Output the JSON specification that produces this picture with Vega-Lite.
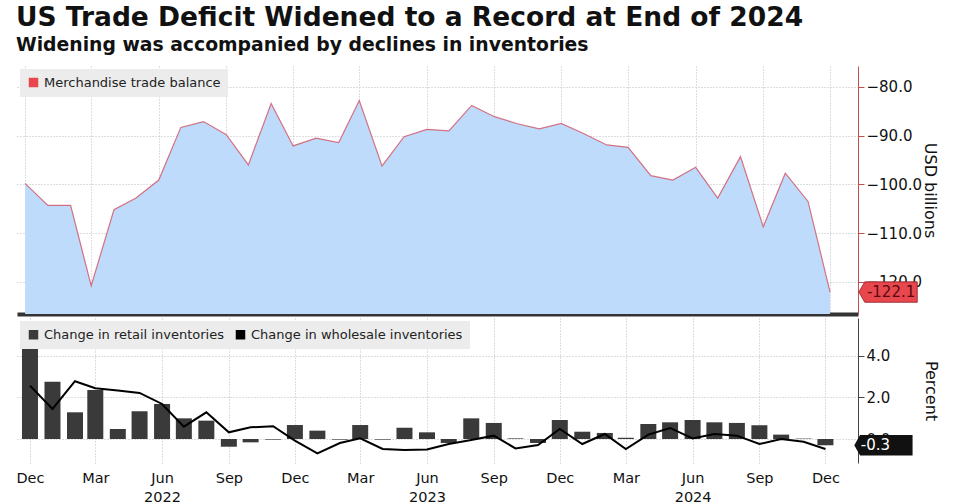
{
  "$schema": "https://vega.github.io/schema/vega-lite/v6.json",
  "padding": {"left": 15, "top": 4, "right": 5, "bottom": 4},
  "background": "white",
  "config": {
    "font": "DejaVu Sans",
    "view": {"stroke": null},
    "concat": {"spacing": 4}
  },
  "title": {
    "text": "US Trade Deficit Widened to a Record at End of 2024",
    "subtitle": "Widening was accompanied by declines in inventories",
    "anchor": "start",
    "font": "DejaVu Sans",
    "fontSize": 26.5,
    "fontWeight": "bold",
    "color": "#111111",
    "subtitleFont": "DejaVu Sans",
    "subtitleFontSize": 18.8,
    "subtitleFontWeight": "bold",
    "subtitleColor": "#111111",
    "subtitlePadding": 5,
    "offset": 11
  },
  "datasets": {
    "main": [
      {"date": "2021-12-01", "trade": -99.8, "retail": 4.32, "wholesale": 2.56},
      {"date": "2022-01-01", "trade": -104.3, "retail": 2.75, "wholesale": 1.44},
      {"date": "2022-02-01", "trade": -104.3, "retail": 1.28, "wholesale": 2.77},
      {"date": "2022-03-01", "trade": -120.8, "retail": 2.35, "wholesale": 2.43},
      {"date": "2022-04-01", "trade": -105.2, "retail": 0.48, "wholesale": 2.32},
      {"date": "2022-05-01", "trade": -102.8, "retail": 1.33, "wholesale": 2.21},
      {"date": "2022-06-01", "trade": -99.1, "retail": 1.68, "wholesale": 1.68},
      {"date": "2022-07-01", "trade": -88.3, "retail": 0.99, "wholesale": 0.59},
      {"date": "2022-08-01", "trade": -87.1, "retail": 0.88, "wholesale": 1.28},
      {"date": "2022-09-01", "trade": -89.8, "retail": -0.37, "wholesale": 0.32},
      {"date": "2022-10-01", "trade": -96.0, "retail": -0.16, "wholesale": 0.56},
      {"date": "2022-11-01", "trade": -83.4, "retail": -0.03, "wholesale": 0.61},
      {"date": "2022-12-01", "trade": -92.1, "retail": 0.67, "wholesale": -0.08},
      {"date": "2023-01-01", "trade": -90.5, "retail": 0.40, "wholesale": -0.69},
      {"date": "2023-02-01", "trade": -91.4, "retail": -0.03, "wholesale": -0.19},
      {"date": "2023-03-01", "trade": -82.8, "retail": 0.67, "wholesale": 0.03},
      {"date": "2023-04-01", "trade": -96.2, "retail": -0.03, "wholesale": -0.48},
      {"date": "2023-05-01", "trade": -90.2, "retail": 0.54, "wholesale": -0.53},
      {"date": "2023-06-01", "trade": -88.7, "retail": 0.32, "wholesale": -0.50},
      {"date": "2023-07-01", "trade": -89.0, "retail": -0.19, "wholesale": -0.24},
      {"date": "2023-08-01", "trade": -83.8, "retail": 0.99, "wholesale": -0.05},
      {"date": "2023-09-01", "trade": -86.1, "retail": 0.77, "wholesale": 0.16},
      {"date": "2023-10-01", "trade": -87.5, "retail": 0.03, "wholesale": -0.45},
      {"date": "2023-11-01", "trade": -88.6, "retail": -0.19, "wholesale": -0.29},
      {"date": "2023-12-01", "trade": -87.5, "retail": 0.91, "wholesale": 0.48},
      {"date": "2024-01-01", "trade": -89.6, "retail": 0.35, "wholesale": -0.24},
      {"date": "2024-02-01", "trade": -91.9, "retail": 0.29, "wholesale": 0.24},
      {"date": "2024-03-01", "trade": -92.4, "retail": 0.06, "wholesale": -0.48},
      {"date": "2024-04-01", "trade": -98.2, "retail": 0.72, "wholesale": 0.21},
      {"date": "2024-05-01", "trade": -99.1, "retail": 0.80, "wholesale": 0.53},
      {"date": "2024-06-01", "trade": -96.5, "retail": 0.91, "wholesale": 0.03},
      {"date": "2024-07-01", "trade": -102.8, "retail": 0.80, "wholesale": 0.24},
      {"date": "2024-08-01", "trade": -94.3, "retail": 0.77, "wholesale": 0.16},
      {"date": "2024-09-01", "trade": -108.7, "retail": 0.66, "wholesale": -0.24},
      {"date": "2024-10-01", "trade": -97.7, "retail": 0.21, "wholesale": 0.00},
      {"date": "2024-11-01", "trade": -103.5, "retail": 0.02, "wholesale": -0.13},
      {"date": "2024-12-01", "trade": -122.1, "retail": -0.30, "wholesale": -0.48}
    ],
    "lastTrade": [{"date": "2024-12-01", "v": -122.1, "label": "-122.1"}],
    "lastRetail": [{"date": "2024-12-01", "v": -0.3, "label": "-0.3"}]
  },
  "resolve": {"scale": {"color": "independent", "x": "independent", "y": "independent"}, "legend": {"color": "independent"}},
  "vconcat": [
    {
      "width": 841,
      "height": 248,
      "data": {"name": "main"},
      "encoding": {
        "x": {
          "field": "date",
          "type": "temporal",
          "scale": {"type": "utc", "domain": [{"year": 2021, "month": 11, "date": 20, "utc": true}, {"year": 2025, "month": 1, "date": 8, "utc": true}]},
          "axis": {
            "title": null,
            "orient": "bottom",
            "labels": false,
            "ticks": false,
            "domain": true,
            "domainColor": "#333333",
            "domainWidth": 4,
            "grid": true,
            "gridColor": "#b8bcc8",
            "gridDash": [1, 2],
            "values": [
              {"year": 2021, "month": 12, "date": 1, "utc": true},
              {"year": 2022, "month": 3, "date": 1, "utc": true},
              {"year": 2022, "month": 6, "date": 1, "utc": true},
              {"year": 2022, "month": 9, "date": 1, "utc": true},
              {"year": 2022, "month": 12, "date": 1, "utc": true},
              {"year": 2023, "month": 3, "date": 1, "utc": true},
              {"year": 2023, "month": 6, "date": 1, "utc": true},
              {"year": 2023, "month": 9, "date": 1, "utc": true},
              {"year": 2023, "month": 12, "date": 1, "utc": true},
              {"year": 2024, "month": 3, "date": 1, "utc": true},
              {"year": 2024, "month": 6, "date": 1, "utc": true},
              {"year": 2024, "month": 9, "date": 1, "utc": true},
              {"year": 2024, "month": 12, "date": 1, "utc": true}
            ]
          }
        }
      },
      "layer": [
        {
          "mark": {"type": "area", "color": "#bfdbfb", "clip": true},
          "encoding": {
            "y": {
              "field": "trade",
              "type": "quantitative",
              "scale": {"domain": [-126.6, -75.7], "zero": false, "nice": false},
              "axis": {
                "orient": "right",
                "title": "USD billions",
                "titleFontSize": 16,
                "titleFontWeight": "normal",
                "titleColor": "#111111",
                "titlePadding": 0,
                "values": [-120, -110, -100, -90, -80],
                "format": ".1f",
                "labelFontSize": 15,
                "labelColor": "#111111",
                "labelPadding": 2,
                "domainColor": "#c0504d",
                "tickColor": "#c0504d",
                "tickSize": 6,
                "grid": true,
                "gridColor": "#b8bcc8",
                "gridDash": [1, 2]
              }
            },
            "y2": {"datum": -126.6}
          }
        },
        {
          "mark": {"type": "line", "strokeWidth": 1.2, "opacity": 0.75},
          "encoding": {
            "y": {"field": "trade", "type": "quantitative"},
            "color": {
              "datum": "Merchandise trade balance",
              "scale": {"domain": ["Merchandise trade balance"], "range": ["#d0485a"]},
              "legend": {
                "title": null,
                "orient": "top-left",
                "offset": 3,
                "fillColor": "#ececec",
                "padding": 7,
                "symbolType": "square",
                "symbolSize": 90,
                "symbolFillColor": "#e8474e",
                "symbolStrokeColor": "#e8474e",
                "symbolStrokeWidth": 0,
                "symbolOpacity": 1,
                "labelFontSize": 13,
                "labelColor": "#222222",
                "labelLimit": 400
              }
            }
          }
        },
        {
          "data": {"name": "lastTrade"},
          "mark": {"type": "point", "shape": "M-1,0L-0.8,-0.35L1,-0.35L1,0.35L-0.8,0.35Z", "size": 3400, "filled": true, "fill": "#e8474e", "stroke": "#8a1c22", "strokeWidth": 0.8, "opacity": 1, "xOffset": 58},
          "encoding": {"y": {"field": "v", "type": "quantitative"}}
        },
        {
          "data": {"name": "lastTrade"},
          "mark": {"type": "text", "fontSize": 15, "color": "#5a0a10", "xOffset": 61, "align": "center", "baseline": "middle"},
          "encoding": {"y": {"field": "v", "type": "quantitative"}, "text": {"field": "label"}}
        }
      ]
    },
    {
      "width": 841,
      "height": 145,
      "data": {"name": "main"},
      "encoding": {
        "x": {
          "field": "date",
          "type": "temporal",
          "scale": {"type": "utc", "domain": [{"year": 2021, "month": 11, "date": 20, "utc": true}, {"year": 2025, "month": 1, "date": 8, "utc": true}]},
          "axis": {
            "title": null,
            "orient": "bottom",
            "domain": false,
            "ticks": false,
            "grid": true,
            "gridColor": "#b8bcc8",
            "gridDash": [1, 2],
            "labelFontSize": 14.5,
            "labelColor": "#111111",
            "labelPadding": 8,
            "labelLineHeight": 19,
            "labelExpr": "utcmonth(datum.value) == 5 ? [utcFormat(datum.value, '%b'), utcFormat(datum.value, '%Y')] : utcFormat(datum.value, '%b')",
            "values": [
              {"year": 2021, "month": 12, "date": 1, "utc": true},
              {"year": 2022, "month": 3, "date": 1, "utc": true},
              {"year": 2022, "month": 6, "date": 1, "utc": true},
              {"year": 2022, "month": 9, "date": 1, "utc": true},
              {"year": 2022, "month": 12, "date": 1, "utc": true},
              {"year": 2023, "month": 3, "date": 1, "utc": true},
              {"year": 2023, "month": 6, "date": 1, "utc": true},
              {"year": 2023, "month": 9, "date": 1, "utc": true},
              {"year": 2023, "month": 12, "date": 1, "utc": true},
              {"year": 2024, "month": 3, "date": 1, "utc": true},
              {"year": 2024, "month": 6, "date": 1, "utc": true},
              {"year": 2024, "month": 9, "date": 1, "utc": true},
              {"year": 2024, "month": 12, "date": 1, "utc": true}
            ]
          }
        }
      },
      "layer": [
        {
          "mark": {"type": "bar", "size": 16},
          "encoding": {
            "y": {
              "field": "retail",
              "type": "quantitative",
              "scale": {"domain": [-1.15, 5.8], "zero": false, "nice": false},
              "axis": {
                "orient": "right",
                "title": "Percent",
                "titleFontSize": 16,
                "titleFontWeight": "normal",
                "titleColor": "#111111",
                "titlePadding": 33,
                "values": [0, 2, 4],
                "format": ".1f",
                "labelFontSize": 15,
                "labelColor": "#111111",
                "labelPadding": 2,
                "domainColor": "#444444",
                "tickColor": "#444444",
                "tickSize": 6,
                "grid": true,
                "gridColor": "#b8bcc8",
                "gridDash": [1, 2]
              }
            },
            "color": {
              "datum": "Change in retail inventories",
              "scale": {"domain": ["Change in retail inventories", "Change in wholesale inventories"], "range": ["#3a3a3a", "#000000"]},
              "legend": {
                "title": null,
                "orient": "top-left",
                "direction": "horizontal",
                "offset": 3,
                "fillColor": "#ececec",
                "padding": 7,
                "columnPadding": 10,
                "symbolType": "square",
                "symbolSize": 90,
                "labelFontSize": 13,
                "labelColor": "#222222",
                "labelLimit": 400,
                "encode": {"symbols": {"update": {"fill": {"signal": "datum.value == 'Change in retail inventories' ? '#3a3a3a' : '#000000'"}, "strokeWidth": {"value": 0}, "opacity": {"value": 1}}}}
              }
            }
          }
        },
        {
          "mark": {"type": "line", "strokeWidth": 2},
          "encoding": {
            "y": {"field": "wholesale", "type": "quantitative"},
            "color": {"datum": "Change in wholesale inventories"}
          }
        },
        {
          "data": {"name": "lastRetail"},
          "mark": {"type": "point", "shape": "M-1,0L-0.8,-0.35L1,-0.35L1,0.35L-0.8,0.35Z", "size": 3400, "filled": true, "fill": "#111111", "opacity": 1, "xOffset": 58},
          "encoding": {"y": {"field": "v", "type": "quantitative"}}
        },
        {
          "data": {"name": "lastRetail"},
          "mark": {"type": "text", "fontSize": 15, "color": "#ffffff", "xOffset": 50, "align": "center", "baseline": "middle"},
          "encoding": {"y": {"field": "v", "type": "quantitative"}, "text": {"field": "label"}}
        }
      ]
    }
  ]
}
